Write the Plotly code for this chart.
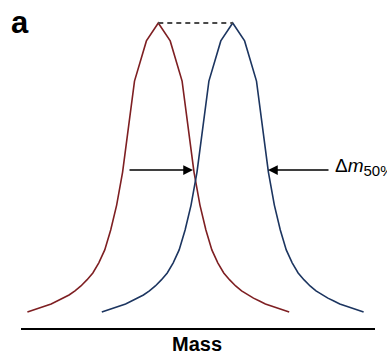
import plotly.graph_objects as go

# Data (mass in arbitrary units, intensity in % of peak)
mass_red = [27.4, 33.35, 39.3, 45.25, 51.2, 57.15, 63.1, 69.05, 75.0, 80.95, 86.9, 92.85,
            98.8, 104.75, 110.7, 116.65, 122.6, 134.5, 146.4,
            158.3,
            170.2, 182.1, 194.0, 199.95, 205.9, 211.85, 217.8, 223.75, 229.7, 235.65,
            241.6, 247.55, 253.5, 259.45, 265.4, 271.35, 277.3, 283.25, 289.2]
mass_blue = [101.8, 107.75, 113.7, 119.65, 125.6, 131.55, 137.5, 143.45, 149.4, 155.35,
             161.3, 167.25, 173.2, 179.15, 185.1, 191.05, 197.0, 208.9, 220.8,
             232.7,
             244.6, 256.5, 268.4, 274.35, 280.3, 286.25, 292.2, 298.15, 304.1, 310.05,
             316.0, 321.95, 327.9, 333.85, 339.8, 345.75, 351.7, 357.65, 363.6]
intensity_red = [0.0, 0.7, 1.4, 2.1, 2.8, 3.8, 4.8, 5.9, 7.3, 9.0, 11.1, 13.5,
                 17.0, 21.5, 28.4, 37.0, 48.4, 79.9, 93.8,
                 100.0,
                 93.8, 79.9, 48.4, 37.0, 28.4, 21.5, 17.0, 13.5, 11.1, 9.0,
                 7.3, 5.9, 4.8, 3.8, 2.8, 2.1, 1.4, 0.7, 0.0]
intensity_blue = [0.0, 0.7, 1.4, 2.1, 2.8, 3.8, 4.8, 5.9, 7.3, 9.0, 11.1, 13.5,
                  17.0, 21.5, 28.4, 37.0, 48.4, 79.9, 93.8,
                  100.0,
                  93.8, 79.9, 48.4, 37.0, 28.4, 21.5, 17.0, 13.5, 11.1, 9.0,
                  7.3, 5.9, 4.8, 3.8, 2.8, 2.1, 1.4, 0.7, 0.0]
peak_red = 158.3
peak_blue = 232.7
half_level = 49.1
arrow_left = (128, 193)    # tail, head
arrow_right = (330, 268)   # tail, head

RED = "#7e1f22"
BLUE = "#1c3560"

fig = go.Figure()
fig.add_trace(go.Scatter(x=mass_red, y=intensity_red, mode="lines",
                         line=dict(color=RED, width=1.6), hoverinfo="skip"))
fig.add_trace(go.Scatter(x=mass_blue, y=intensity_blue, mode="lines",
                         line=dict(color=BLUE, width=1.6), hoverinfo="skip"))
# dashed line between peaks
fig.add_trace(go.Scatter(x=[peak_red, peak_blue], y=[100, 100], mode="lines",
                         line=dict(color="#4a4a4a", width=1.8, dash="5px,4px"),
                         hoverinfo="skip"))

fig.add_annotation(x=arrow_left[1], y=half_level, ax=arrow_left[0], ay=half_level,
                   xref="x", yref="y", axref="x", ayref="y", text="",
                   showarrow=True, arrowhead=2, arrowsize=1.3, arrowwidth=1.5,
                   arrowcolor="black")
fig.add_annotation(x=arrow_right[1], y=half_level, ax=arrow_right[0], ay=half_level,
                   xref="x", yref="y", axref="x", ayref="y", text="",
                   showarrow=True, arrowhead=2, arrowsize=1.3, arrowwidth=1.5,
                   arrowcolor="black")
fig.add_annotation(x=(333 - 21) / 354, y=half_level, xref="paper", yref="y",
                   text="Δ<i>m</i><sub><span style='font-size:15px'>50%</span></sub>",
                   showarrow=False, xanchor="left", yanchor="middle", yshift=3,
                   font=dict(family="Liberation Sans, Arial", size=19, color="black"))
fig.add_annotation(x=(9 - 21) / 354, y=1.0, xref="paper", yref="paper", text="<b>a</b>",
                   showarrow=False, xanchor="left", yanchor="top", yshift=-3,
                   font=dict(family="Liberation Sans, Arial", size=31, color="black"))
fig.add_annotation(x=(197 - 21) / 354, y=-0.049, xref="paper", yref="paper",
                   text="<b>Mass</b>",
                   showarrow=False, xanchor="center", yanchor="middle",
                   font=dict(family="Liberation Sans, Arial", size=20, color="black"))

fig.update_layout(
    width=387, height=354,
    margin=dict(l=21, r=12, t=0, b=26),
    paper_bgcolor="white", plot_bgcolor="white",
    showlegend=False,
    xaxis=dict(range=[21, 375], showgrid=False, zeroline=False, showticklabels=False,
               ticks="", showline=True, linecolor="black", linewidth=2, fixedrange=True),
    yaxis=dict(range=[-5.54, 107.96], showgrid=False, zeroline=False, showticklabels=False,
               ticks="", showline=False, fixedrange=True),
)

fig.write_html("out.html", config={"displayModeBar": False})
